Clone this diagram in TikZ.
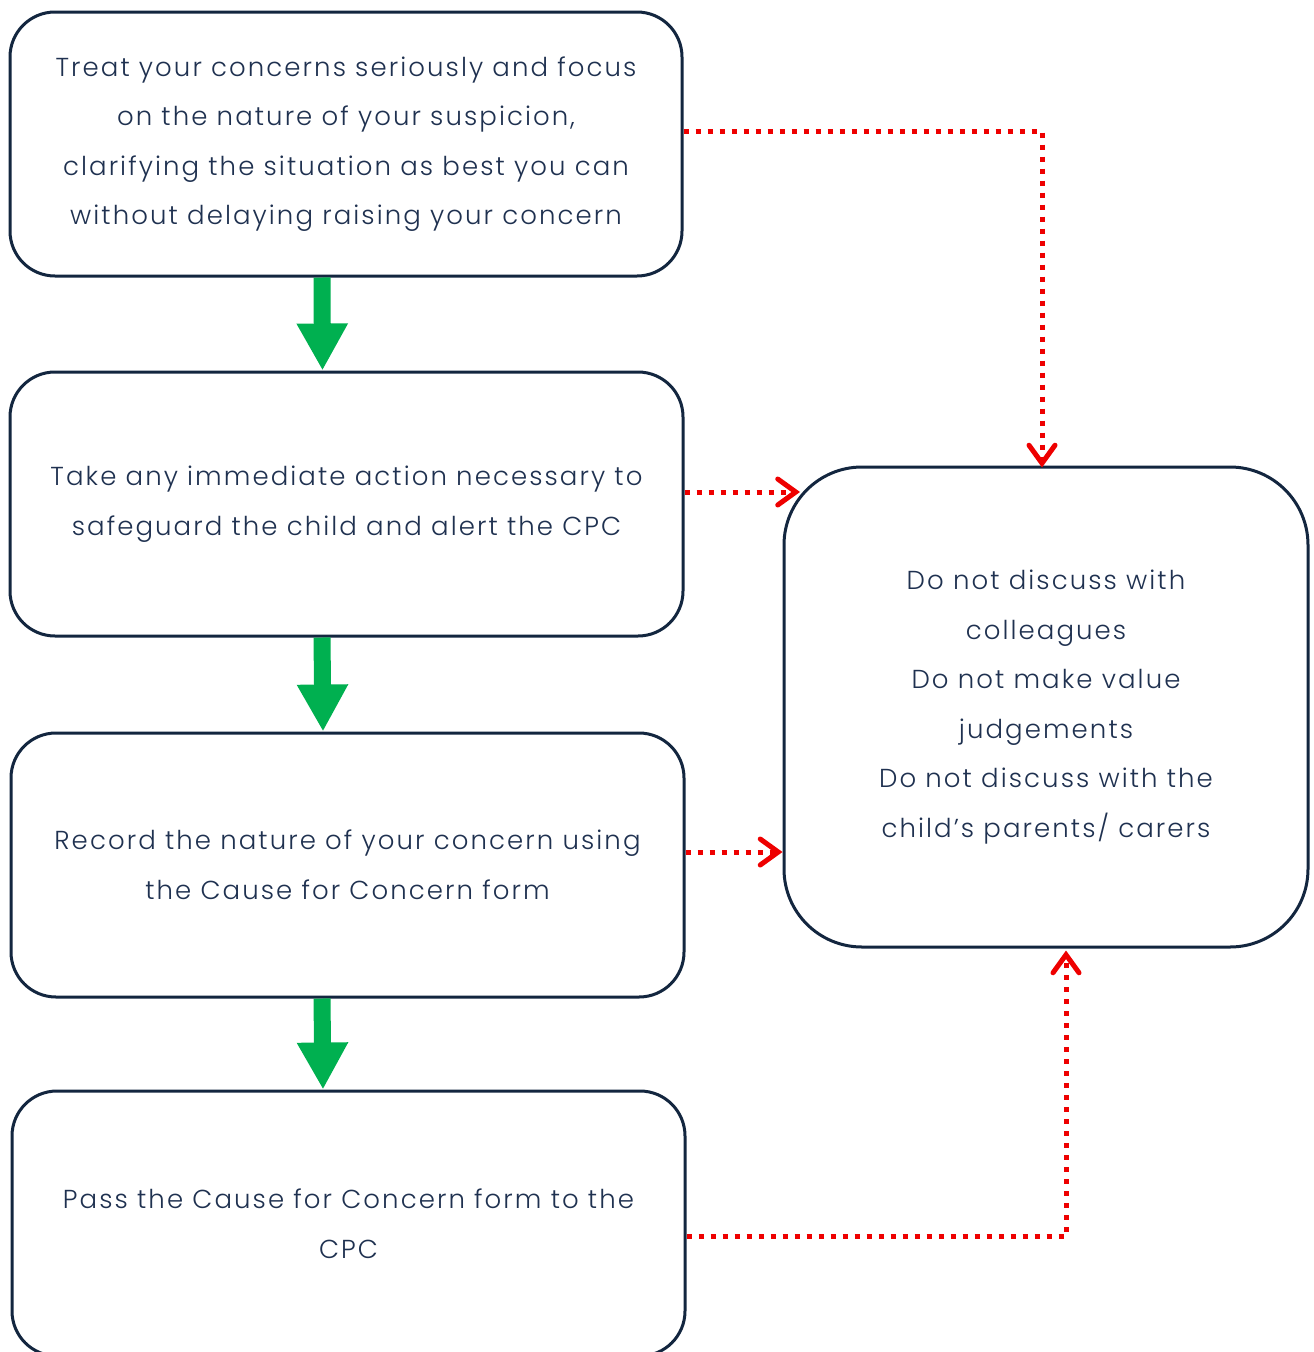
\documentclass[tikz,border=0pt]{standalone}
\usepackage{fontspec}
\setmainfont{Poppins}[UprightFont=* Light, LetterSpace=8]
\usetikzlibrary{arrows.meta}
\definecolor{navy}{HTML}{13263F}
\definecolor{txt}{HTML}{1F3150}
\definecolor{grn}{HTML}{00B050}
\definecolor{rd}{HTML}{EE0000}
\begin{document}
\begin{tikzpicture}[x=1pt,y=-1pt,
  box/.style={draw=navy, line width=3pt, rounded corners=45pt, align=center, text=txt,
    font=\fontsize{26}{49.5}\selectfont, inner sep=0pt},
  greenarr/.style={draw=grn, line width=17pt, -{Triangle[width=48pt,length=47pt]}, fill=grn},
  reddot/.style={draw=rd, line width=5pt, dash pattern=on 5pt off 7pt,
    -{Straight Barb[length=18pt,width=26pt,line width=5pt,line cap=round]}}]
\useasboundingbox (0,0) rectangle (1314,1352);
\fill[white] (0,0) rectangle (1314,1352);

\node[box, minimum width=672pt, minimum height=264pt] (b1) at (346,144)
  {Treat your concerns seriously and focus\\on the nature of your suspicion,\\clarifying the situation as best you can\\without delaying raising your concern};
\node[box, minimum width=673pt, minimum height=264pt] (b2) at (346.5,504)
  {Take any immediate action necessary to\\safeguard the child and alert the CPC};
\node[box, minimum width=673pt, minimum height=264pt] (b3) at (347.5,865)
  {Record the nature of your concern using\\the Cause for Concern form};
\node[box, minimum width=673pt, minimum height=265pt] (b4) at (348.5,1223.5)
  {Pass the Cause for Concern form to the\\CPC};
\node[box, rounded corners=78pt, minimum width=524pt, minimum height=480pt] (b5) at (1046,707)
  {Do not discuss with\\colleagues\\Do not make value\\judgements\\Do not discuss with the\\child’s parents/ carers};

\draw[greenarr] ([xshift=-24pt]b1.south) -- ([xshift=-24pt]b2.north);
\draw[greenarr] ([xshift=-24.5pt]b2.south) -- ([xshift=-24.5pt]b3.north);
\draw[greenarr] ([xshift=-25.5pt]b3.south) -- ([xshift=-25.5pt]b4.north);

\coordinate (c2) at (800,492);
\draw[reddot] ([yshift=13pt]b1.east) -| ([xshift=-4pt,yshift=-2pt]b5.north);
\draw[reddot] ([yshift=12pt]b2.east) -- (c2);
\draw[reddot] ([yshift=13pt]b3.east) -- ([yshift=13pt]b3.east -| b5.west);
\draw[reddot] ([yshift=-12.5pt]b4.east) -| ([xshift=20pt,yshift=-2pt]b5.south);
\end{tikzpicture}
\end{document}
